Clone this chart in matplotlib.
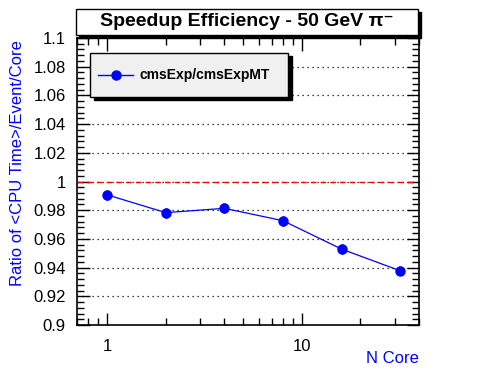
import matplotlib
matplotlib.use("Agg")
import matplotlib.pyplot as plt
from matplotlib.patches import Rectangle
from matplotlib.lines import Line2D
from matplotlib.ticker import FixedLocator, MultipleLocator, NullFormatter

plt.rcParams["font.family"] = ["Liberation Sans", "DejaVu Sans"]

n_core = [1, 2, 4, 8, 16, 32]
ratio = [0.9907, 0.9783, 0.9813, 0.9727, 0.9529, 0.9378]
ratio_err = [0.0037, 0.0034, 0.0034, 0.0035, 0.0034, 0.0032]
series_label = "cmsExp/cmsExpMT"
title = "Speedup Efficiency - 50 GeV π\u207b"
y_ticks = [0.9, 0.92, 0.94, 0.96, 0.98, 1.0, 1.02, 1.04, 1.06, 1.08, 1.1]
y_ticklabels = ["0.9", "0.92", "0.94", "0.96", "0.98", "1", "1.02", "1.04", "1.06", "1.08", "1.1"]

W, H = 496, 372
fig = plt.figure(figsize=(W / 100, H / 100), dpi=100)
ax = fig.add_axes([77 / W, 1 - 325 / H, (419 - 77) / W, (325 - 38) / H])

ax.set_xscale("log")
ax.set_xlim(0.7, 40)
ax.set_ylim(0.9, 1.1)

for y in y_ticks[1:-1]:
    ax.axhline(y, color="black", ls=(0, (1, 3)), lw=0.9, zorder=1)
ax.axhline(1.0, color="red", ls=(0, (4, 3)), lw=1.0, zorder=2)

ax.errorbar(n_core, ratio, yerr=ratio_err, color="#0000ff", marker="o",
            ms=6.5, lw=0.9, elinewidth=2.0, capsize=0, zorder=3)

ax.yaxis.set_major_locator(FixedLocator(y_ticks))
ax.set_yticklabels(y_ticklabels)
ax.yaxis.set_minor_locator(MultipleLocator(0.004))
ax.xaxis.set_minor_formatter(NullFormatter())
ax.set_xticks([1, 10])
ax.set_xticklabels(["1", "10"])
ax.tick_params(which="both", direction="in", top=True, right=True,
               labelsize=12, pad=8)
ax.tick_params(axis="x", pad=10)
ax.tick_params(which="major", length=9, width=1.0)
ax.tick_params(which="minor", length=5, width=1.0)
for s in ax.spines.values():
    s.set_linewidth(1.2)

ax.set_ylabel("Ratio of <CPU Time>/Event/Core", color="#0000ff", fontsize=12)
ax.yaxis.set_label_coords(-0.152, 0.565)
ax.set_xlabel("N Core", color="#0000ff", fontsize=12)
ax.xaxis.set_label_coords(1.0, -0.09)
ax.xaxis.label.set_horizontalalignment("right")

# title box with shadow
fig.patches.append(Rectangle((79 / W, 1 - 38 / H), 342 / W, 26 / H,
                             transform=fig.transFigure, color="black", zorder=5))
fig.patches.append(Rectangle((76 / W, 1 - 35 / H), 342 / W, 26 / H,
                             transform=fig.transFigure, facecolor="white",
                             edgecolor="black", lw=1.0, zorder=6))
fig.text(247 / W, 1 - 22 / H, title, ha="center", va="center",
         fontsize=14, fontweight="bold", zorder=7)

# legend box with shadow
fig.patches.append(Rectangle((94 / W, 1 - 100 / H), 198 / W, 44 / H,
                             transform=fig.transFigure, color="black", zorder=5))
fig.patches.append(Rectangle((90 / W, 1 - 97 / H), 198 / W, 44 / H,
                             transform=fig.transFigure, facecolor="#f0f0f0",
                             edgecolor="black", lw=1.0, zorder=6))
fig.lines.append(Line2D([98 / W, 133 / W], [1 - 75 / H, 1 - 75 / H],
                        transform=fig.transFigure, color="#0000ff", lw=1.0,
                        zorder=7))
fig.lines.append(Line2D([115.5 / W], [1 - 75 / H], transform=fig.transFigure,
                        color="#0000ff", marker="o", ms=6.5, zorder=8))
fig.text(140 / W, 1 - 75 / H, series_label, ha="left", va="center",
         fontsize=10, fontweight="bold", zorder=7)

fig.savefig("out.png", dpi=100)
